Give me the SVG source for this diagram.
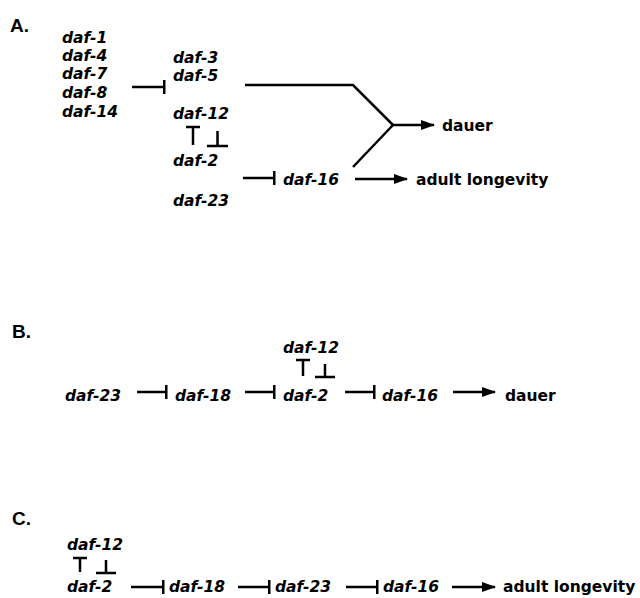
<svg xmlns="http://www.w3.org/2000/svg" width="640" height="598" viewBox="0 0 640 598">
<defs>
<style>
.g{font-family:"DejaVu Sans","Liberation Sans",sans-serif;font-weight:bold;font-style:italic;font-size:15.5px;fill:#000}
.o{font-family:"DejaVu Sans","Liberation Sans",sans-serif;font-weight:bold;font-size:15.5px;fill:#000}
.h{font-family:"Liberation Sans","DejaVu Sans",sans-serif;font-weight:bold;font-size:19px;fill:#000}
.ln{stroke:#000;stroke-width:2.5;fill:none}
.inh{stroke:#000;stroke-width:2.5;fill:none;marker-end:url(#bar)}
.act{stroke:#000;stroke-width:2.5;fill:none;marker-end:url(#ah)}
</style>
<marker id="ah" viewBox="0 0 14 10" refX="13" refY="5" markerWidth="14" markerHeight="10" markerUnits="userSpaceOnUse" orient="auto"><path d="M0,0 L14,5 L0,10 z" fill="#000"/></marker>
<marker id="bar" viewBox="0 0 3 14" refX="1.5" refY="7" markerWidth="3" markerHeight="14" markerUnits="userSpaceOnUse" orient="auto"><rect width="3" height="14" fill="#000"/></marker>
</defs>
<rect width="640" height="598" fill="#fff"/>

<!-- Panel labels -->
<text class="h" x="10" y="32">A.</text>
<text class="h" x="12" y="338">B.</text>
<text class="h" x="12" y="525">C.</text>

<!-- Panel A nodes -->
<g id="A-upstream">
<text class="g" x="62" y="43">daf-1</text>
<text class="g" x="62" y="61">daf-4</text>
<text class="g" x="62" y="79">daf-7</text>
<text class="g" x="62" y="98">daf-8</text>
<text class="g" x="62" y="117">daf-14</text>
</g>
<g id="A-daf3-5">
<text class="g" x="173" y="63">daf-3</text>
<text class="g" x="173" y="81">daf-5</text>
</g>
<g id="A-daf12"><text class="g" x="173" y="119">daf-12</text></g>
<g id="A-daf2"><text class="g" x="173" y="166">daf-2</text></g>
<g id="A-daf23"><text class="g" x="173" y="206">daf-23</text></g>
<g id="A-daf16"><text class="g" x="283" y="185">daf-16</text></g>
<g id="A-dauer"><text class="o" x="442" y="131">dauer</text></g>
<g id="A-longevity"><text class="o" x="416" y="185">adult longevity</text></g>

<!-- Panel B nodes -->
<g id="B-daf12"><text class="g" x="283" y="353">daf-12</text></g>
<g id="B-daf23"><text class="g" x="65" y="401">daf-23</text></g>
<g id="B-daf18"><text class="g" x="175" y="401">daf-18</text></g>
<g id="B-daf2"><text class="g" x="283" y="401">daf-2</text></g>
<g id="B-daf16"><text class="g" x="382" y="401">daf-16</text></g>
<g id="B-dauer"><text class="o" x="505" y="401">dauer</text></g>

<!-- Panel C nodes -->
<g id="C-daf12"><text class="g" x="67" y="550">daf-12</text></g>
<g id="C-daf2"><text class="g" x="67" y="592">daf-2</text></g>
<g id="C-daf18"><text class="g" x="169" y="592">daf-18</text></g>
<g id="C-daf23"><text class="g" x="275" y="592">daf-23</text></g>
<g id="C-daf16"><text class="g" x="383" y="592">daf-16</text></g>
<g id="C-longevity"><text class="o" x="503" y="592">adult longevity</text></g>

<!-- Connectors -->
<g id="connectors">
<!-- A -->
<path class="inh" d="M132,87 H164"/>
<path class="ln" d="M245,85 H353 L393,125"/>
<path class="ln" d="M353,167 L393,125"/>
<path class="act" d="M393,125 H434"/>
<path class="inh" d="M243,178 H274"/>
<path class="act" d="M355,179 H407"/>
<path class="ln" d="M186,127 H200 M193,127 V145"/>
<path class="ln" d="M207,146 H228 M217.5,146 V131"/>
<!-- B -->
<path class="ln" d="M296,360 H310 M303,360 V376"/>
<path class="ln" d="M315,377 H335 M325,377 V364"/>
<path class="inh" d="M137,392 H166"/>
<path class="inh" d="M245,392 H274"/>
<path class="inh" d="M345,392 H374"/>
<path class="act" d="M453,392 H495"/>
<!-- C -->
<path class="ln" d="M73,558 H87 M80,558 V572"/>
<path class="ln" d="M96,573 H116 M106,573 V560"/>
<path class="inh" d="M131,587 H163"/>
<path class="inh" d="M238,587 H269"/>
<path class="inh" d="M346,587 H377"/>
<path class="act" d="M452,587 H495"/>
</g>
</svg>
